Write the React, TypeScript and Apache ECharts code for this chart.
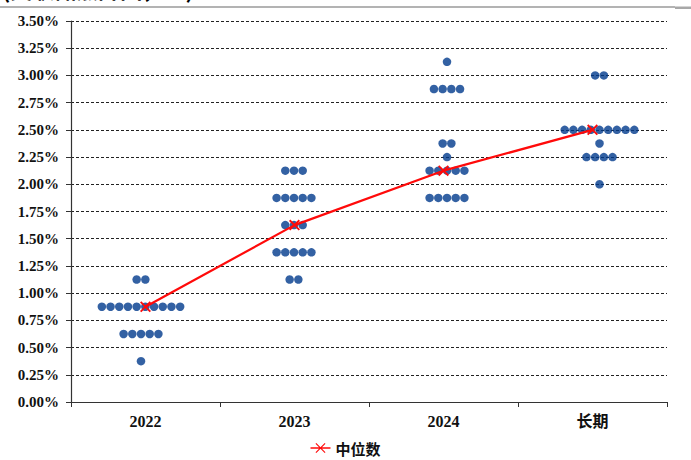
import React, { useEffect, useRef } from "react";
import * as echarts from "echarts";

// FOMC dot plot: projected appropriate policy rate (midpoint of target range)
const categories = ["2022", "2023", "2024", "长期"];

// [rate %, number of participants] per projection horizon
const dots2022: [number, number][] = [
  [1.125, 2],
  [0.875, 10],
  [0.625, 5],
  [0.375, 1],
];
const dots2023: [number, number][] = [
  [2.125, 3],
  [1.875, 5],
  [1.625, 3],
  [1.375, 5],
  [1.125, 2],
];
const dots2024: [number, number][] = [
  [3.125, 1],
  [2.875, 4],
  [2.375, 2],
  [2.25, 1],
  [2.125, 5],
  [1.875, 5],
];
const dotsLongRun: [number, number][] = [
  [3.0, 2],
  [2.5, 9],
  [2.375, 1],
  [2.25, 4],
  [2.0, 1],
];

const medians = [0.875, 1.625, 2.125, 2.5];
const medianName = "中位数";

const yMin = 0;
const yMax = 3.5;
const yStep = 0.25;

const allDots = [dots2022, dots2023, dots2024, dotsLongRun];

// horizontal spacing of dots within a row and per-column nudge (px)
const DOT_GAP = 8.7;
const COLUMN_SHIFT = [-4.5, -0.5, 3.5, 7];

const CROSS =
  "path://M0,1.2 L1.2,0 L10,8.8 L8.8,10 Z M8.8,0 L10,1.2 L1.2,10 L0,8.8 Z";
const LEGEND_ICON =
  "path://M0,4.2 L20,4.2 L20,5.8 L0,5.8 Z M5,0.8 L5.8,0 L15,9.2 L14.2,10 Z M14.2,0 L15,0.8 L5.8,10 L5,9.2 Z";

export default function App() {
  const ref = useRef<HTMLDivElement>(null);

  useEffect(() => {
    if (!ref.current) return;
    const chart = echarts.init(ref.current, undefined, { renderer: "svg" });

    const scatterData: any[] = [];
    allDots.forEach((rows, c) => {
      rows.forEach(([rate, n]) => {
        for (let i = 0; i < n; i++) {
          scatterData.push({
            value: [c, rate],
            symbolOffset: [(i - (n - 1) / 2) * DOT_GAP + COLUMN_SHIFT[c], 0],
          });
        }
      });
    });

    const serif = "'Liberation Serif', 'Times New Roman', serif";
    const cjk = "'Liberation Serif', 'Noto Sans CJK SC', serif";

    chart.setOption({
      animation: false,
      backgroundColor: "#ffffff",
      grid: { left: 71, right: 24, top: 21, bottom: 58, containLabel: false },
      xAxis: {
        type: "category",
        data: categories,
        boundaryGap: true,
        axisLine: { lineStyle: { color: "#333333", width: 1.2 } },
        axisTick: { show: true, length: 5, lineStyle: { color: "#333333" } },
        axisLabel: {
          margin: 11,
          color: "#111111",
          fontFamily: cjk,
          fontWeight: "bold",
          fontSize: 16,
        },
        splitLine: { show: false },
      },
      yAxis: {
        type: "value",
        min: yMin,
        max: yMax,
        interval: yStep,
        axisLine: { show: true, lineStyle: { color: "#333333", width: 1.2 } },
        axisTick: { show: true, length: 5, lineStyle: { color: "#333333" } },
        axisLabel: {
          margin: 12,
          color: "#111111",
          fontFamily: serif,
          fontWeight: "bold",
          fontSize: 15,
          formatter: (v: number) => v.toFixed(2) + "%",
        },
        splitLine: {
          show: true,
          lineStyle: { color: "#222222", type: [3, 2], width: 1 },
        },
      },
      legend: {
        top: 439,
        left: "center",
        padding: 0,
        itemWidth: 20,
        itemHeight: 10,
        itemGap: 6,
        data: [{ name: medianName, icon: LEGEND_ICON }],
        textStyle: {
          fontFamily: "'Noto Sans CJK SC', sans-serif",
          fontWeight: "bold",
          fontSize: 15,
          lineHeight: 18,
          color: "#111111",
        },
      },
      graphic: [
        {
          type: "text",
          left: 2,
          top: -23,
          style: {
            text: "(美联储点阵图，%)",
            fontSize: 22,
            fontWeight: "bold",
            fill: "#000000",
            fontFamily: "'Noto Sans CJK SC', sans-serif",
          },
        },
        {
          type: "line",
          shape: { x1: 0, y1: 7, x2: 675, y2: 7 },
          style: { stroke: "#9a9a9a", lineWidth: 1.5 },
        },
        {
          type: "rect",
          shape: { x: 675, y: 6.5, width: 16, height: 2.5 },
          style: { fill: "#a8a8a8" },
        },
      ],
      series: [
        {
          type: "scatter",
          name: "dots",
          data: scatterData,
          symbol: "circle",
          symbolSize: 8.5,
          itemStyle: { color: "#003a8c" },
          z: 3,
          silent: true,
        },
        {
          type: "line",
          name: medianName,
          data: medians,
          symbol: CROSS,
          symbolSize: 11,
          lineStyle: { color: "#ff0a0a", width: 2.2 },
          itemStyle: { color: "#ff0a0a" },
          z: 5,
        },
      ],
    });

    return () => chart.dispose();
  }, []);

  return (
    <div
      ref={ref}
      style={{ position: "fixed", left: 0, top: 0, width: 691, height: 460 }}
    />
  );
}
